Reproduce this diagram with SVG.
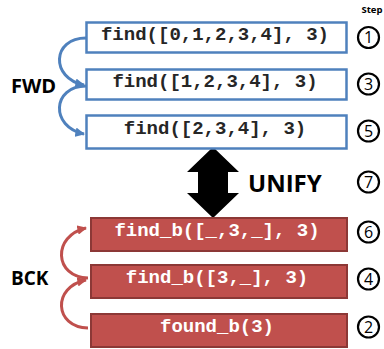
<svg xmlns="http://www.w3.org/2000/svg" width="384" height="349" viewBox="0 0 384 349">
<defs>
<style>
.fb{fill:#ffffff;stroke:#4f81bd;stroke-width:2.5}
.rb{fill:#c0504d;stroke:#8c3836;stroke-width:2}
.mt{font-family:"Liberation Mono","Courier New",monospace;font-size:19px;font-weight:bold;text-anchor:middle}
.bt{fill:#262626}
.wt{fill:#ffffff}
.lbl{font-family:"Open Sans","Liberation Sans",Arial,sans-serif;font-weight:bold;fill:#000000}
.st{fill:#ffffff;stroke:#000000;stroke-width:2.2}
.sn{font-family:"Open Sans","Liberation Sans",Arial,sans-serif;font-size:16px;text-anchor:middle;fill:#000000}
.ba{fill:none;stroke:#4f81bd;stroke-width:3}
.ra{fill:none;stroke:#c0504d;stroke-width:3}
</style>
<marker id="mb" viewBox="0 0 10 10" refX="9" refY="5" markerWidth="3.2" markerHeight="3.2" orient="auto" markerUnits="strokeWidth">
<path d="M0,0 L10,5 L0,10 z" fill="#4f81bd"/>
</marker>
<marker id="mr" viewBox="0 0 10 10" refX="9" refY="5" markerWidth="3.2" markerHeight="3.2" orient="auto" markerUnits="strokeWidth">
<path d="M0,0 L10,5 L0,10 z" fill="#c0504d"/>
</marker>
</defs>
<rect width="384" height="349" fill="#ffffff"/>

<g id="connectors">
<path class="ba" d="M86,38 C52,38 50,78 84,85" marker-end="url(#mb)"/>
<path class="ba" d="M86,86 C52,86 50,127 84,134" marker-end="url(#mb)"/>
<path class="ra" d="M88,278 C54,277 52,236 86,228" marker-end="url(#mr)"/>
<path class="ra" d="M88,328 C54,327 52,287 86,280" marker-end="url(#mr)"/>
<path id="unify-arrow" d="M213,147 L239,172 L228,172 L228,193 L239,193 L213,218 L187,193 L198,193 L198,172 L187,172 Z" fill="#000000"/>
</g>

<g id="n1"><rect class="fb" x="86.5" y="22.5" width="260" height="30"/><text class="mt bt" x="215" y="40">find([0,1,2,3,4], 3)</text></g>
<g id="n3"><rect class="fb" x="86.5" y="69.5" width="260" height="30"/><text class="mt bt" x="215" y="87">find([1,2,3,4], 3)</text></g>
<g id="n5"><rect class="fb" x="86.5" y="115.5" width="260" height="33"/><text class="mt bt" x="215" y="134">find([2,3,4], 3)</text></g>
<g id="n6"><rect class="rb" x="91" y="218" width="256" height="33"/><text class="mt wt" x="217" y="236">find_b([_,3,_], 3)</text></g>
<g id="n4"><rect class="rb" x="91" y="265" width="256" height="33"/><text class="mt wt" x="217" y="283">find_b([3,_], 3)</text></g>
<g id="n2"><rect class="rb" x="91" y="314" width="256" height="33"/><text class="mt wt" x="217" y="332">found_b(3)</text></g>

<g id="labels">
<text class="lbl" x="11" y="93" font-size="20">FWD</text>
<text class="lbl" x="11" y="285" font-size="19">BCK</text>
<text class="lbl" x="248" y="192" font-size="24">UNIFY</text>
<text class="lbl" x="361.5" y="13" font-size="9.5">Step</text>
</g>

<g id="steps">
<circle class="st" cx="368.5" cy="37.5" r="10.5"/><text class="sn" x="368.5" y="43">1</text>
<circle class="st" cx="368.5" cy="84" r="10.5"/><text class="sn" x="368.5" y="89.5">3</text>
<circle class="st" cx="368.5" cy="131" r="10.5"/><text class="sn" x="368.5" y="136.5">5</text>
<circle class="st" cx="368.5" cy="182" r="10.5"/><text class="sn" x="368.5" y="187.5">7</text>
<circle class="st" cx="368.5" cy="232" r="10.5"/><text class="sn" x="368.5" y="237.5">6</text>
<circle class="st" cx="368.5" cy="279" r="10.5"/><text class="sn" x="368.5" y="284.5">4</text>
<circle class="st" cx="368.5" cy="327" r="10.5"/><text class="sn" x="368.5" y="332.5">2</text>
</g>
</svg>
